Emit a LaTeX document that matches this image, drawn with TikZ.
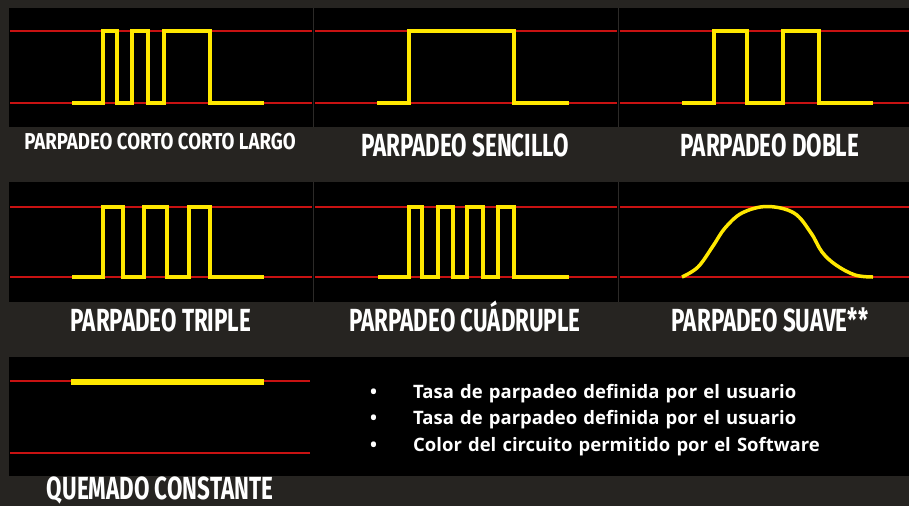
\documentclass[tikz,border=0pt]{standalone}
\usepackage{fontspec}
\setmainfont{Open Sans}
\newfontfamily\capsfont[FakeStretch=0.7]{Fira Sans}
\newfontfamily\widecapsfont[FakeStretch=0.81]{Fira Sans}
\usetikzlibrary{positioning}
\definecolor{stone}{RGB}{38,36,33}
\definecolor{seam}{RGB}{44,42,40}
\definecolor{lamp}{RGB}{255,232,0}
\definecolor{redline}{RGB}{200,18,18}

\begin{document}
\begin{tikzpicture}[x=1pt,y=-1pt,
  panel/.style={fill=black},
  guide/.style={draw=redline,line width=2pt},
  sig/.style={draw=lamp,line width=4pt,line join=miter},
  tag/.style={text=white,inner sep=0pt,anchor=base,font=\capsfont\bfseries\fontsize{32}{32}\selectfont},
  bullet/.style={text=white,inner sep=0pt,text width=480pt,align=left,text height=14pt,text depth=5pt,font=\bfseries\fontsize{18.5}{18.5}\selectfont},
  node distance=7pt]
  \useasboundingbox (0,0) rectangle (909,506);
  \fill[stone] (0,0) rectangle (909,506);

  % black strips
  \fill[panel] (9,8) rectangle (909,127);
  \fill[panel] (9,182) rectangle (909,302);
  \fill[panel] (9,357) rectangle (909,476);
  \foreach \x in {313.5,618.5} {
    \draw[seam,line width=1pt] (\x,8) -- (\x,127);
    \draw[seam,line width=1pt] (\x,182) -- (\x,302);
  }

  % red guides
  \foreach \y in {31,103,207,277}
    \foreach \a/\b in {10/312,315/617,620/909}
      \draw[guide] (\a,\y) -- (\b,\y);
  \draw[guide] (10,381) -- (310,381);
  \draw[guide] (10,453) -- (310,453);

  % short short long
  \draw[sig] (72,103) -| (103,31) -| (117,103) -| (132,31) -| (148,103)
             -| (164,31) -| (210,103) -- (264,103);
  % single
  \draw[sig] (377,103) -| (409,31) -| (514,103) -- (569,103);
  % double
  \draw[sig] (682,103) -| (714,31) -| (747,103) -| (783,31) -| (819,103) -- (873,103);
  % triple
  \draw[sig] (72,277) -| (103,207) -| (123,277) -| (144,207) -| (167,277)
             -| (189,207) -| (210,277) -- (264,277);
  % quadruple
  \draw[sig] (378,277) -| (409,207) -| (422,277) -| (438,207) -| (453,277)
             -| (467,207) -| (483,277) -| (498,207) -| (514,277) -- (569,277);
  % soft
  \draw[sig,line width=3.5pt] plot[smooth,tension=0.6] coordinates {(682,277) (698,267) (713,246) (725,228)
     (742,213) (767,206.5) (794,213) (811,233) (822,252) (836,265) (855,275) (873,277)};
  % steady
  \draw[lamp,line width=6pt] (71,382) -- (264,382);

  \node[tag,font=\widecapsfont\bfseries\fontsize{23}{23}\selectfont] (ccl) at (160,149) {PARPADEO CORTO CORTO LARGO};
  \node[tag] (sen) at (465,156) {PARPADEO SENCILLO};
  \node[tag] (dob) at (770,156) {PARPADEO DOBLE};
  \node[tag] (tri) at (161,331) {PARPADEO TRIPLE};
  \node[tag] (cua) at (465,331) {PARPADEO CUÁDRUPLE};
  \node[tag] (sua) at (770,331) {PARPADEO SUAVE**};
  \node[tag,text depth=0pt] (con) at (160,499) {QUEMADO CONSTANTE};

  \node[bullet,anchor=north west] (b1) at (370,384) {\makebox[43pt][l]{•}Tasa de parpadeo definida por el usuario};
  \node[bullet] (b2) [below=of b1] {\makebox[43pt][l]{•}Tasa de parpadeo definida por el usuario};
  \node[bullet] (b3) [below=of b2] {\makebox[43pt][l]{•}Color del circuito permitido por el Software};
\end{tikzpicture}
\end{document}
